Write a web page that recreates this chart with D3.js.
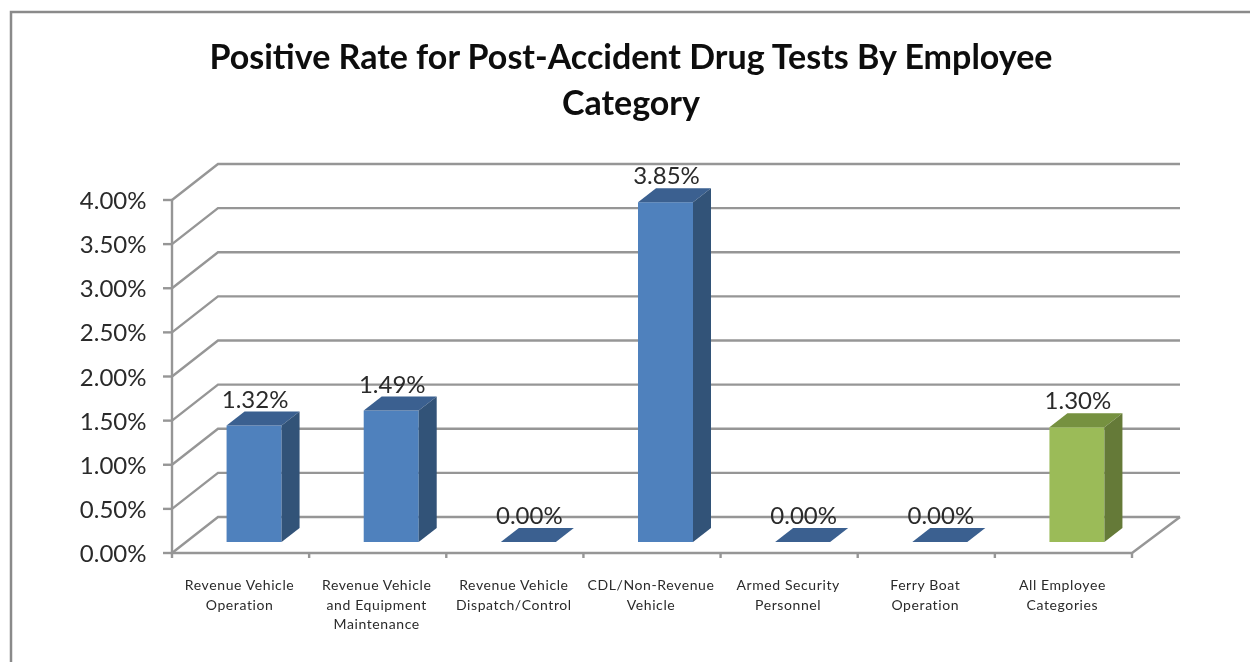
<!DOCTYPE html>
<html><head><meta charset="utf-8">
<script src="https://cdn.jsdelivr.net/npm/d3@7/dist/d3.min.js"></script>
<style>html,body{margin:0;padding:0;background:#fff;overflow:hidden}svg{display:block}</style>
</head><body>
<svg id="c" width="1250" height="662"></svg>
<script>
const categories = [
  ["Revenue Vehicle","Operation"],
  ["Revenue Vehicle","and Equipment","Maintenance"],
  ["Revenue Vehicle","Dispatch/Control"],
  ["CDL/Non-Revenue","Vehicle"],
  ["Armed Security","Personnel"],
  ["Ferry Boat","Operation"],
  ["All Employee","Categories"]
];
const values = [1.32, 1.49, 0, 3.85, 0, 0, 1.30];
const yTicks = [0, 0.5, 1, 1.5, 2, 2.5, 3, 3.5, 4];
const titleLines = ["Positive Rate for Post-Accident Drug Tests By Employee", "Category"];
const barFills = ["#4f81bd","#4f81bd","#4f81bd","#4f81bd","#4f81bd","#4f81bd","#9bbb59"];
const topFills = ["#3a6090","#3a6090","#3a6090","#3a6090","#3a6090","#3a6090","#76913f"];
const sideFills = ["#325278","#325278","#325278","#325278","#325278","#325278","#657a38"];

const svg = d3.select("#c");
const font = "Lato, sans-serif";
const grid = "#969696";
const X0 = 172, X1 = 1132, DX = 46, DY = -36;
const y = d3.scaleLinear().domain([0,4]).range([553,200]);
const x = d3.scaleBand().domain(d3.range(categories.length)).range([X0,X1]);
const barW = 55, bdx = 18, bdy = -14, offX = 14, offY = -11;

const f = svg.append("defs").append("filter").attr("id","soft")
  .attr("filterUnits","userSpaceOnUse")
  .attr("x",0).attr("y",0).attr("width",1250).attr("height",662);
f.append("feGaussianBlur").attr("stdDeviation",0.6);

const root = svg.append("g").attr("filter","url(#soft)");
// outer frame
root.append("path").attr("d","M11,670V12H1260").attr("fill","none").attr("stroke","#8a8a8a").attr("stroke-width",2.5);

const g = root.append("g");
// gridlines on side + back wall
g.selectAll("path.grid").data(yTicks).join("path").attr("class","grid")
  .attr("d",d=>`M${X0},${y(d)}L${X0+DX},${y(d)+DY}H${X1+48}`)
  .attr("fill","none").attr("stroke",grid).attr("stroke-width",2.4);
// axes and floor
g.append("path").attr("d",`M${X0},${y(4)}V${y(0)}H${X1}L${X1+DX+2},${y(0)+DY}`)
  .attr("fill","none").attr("stroke",grid).attr("stroke-width",2.4);
// ticks
g.selectAll("line.yt").data(yTicks).join("line").attr("class","yt")
  .attr("x1",X0-9).attr("x2",X0).attr("y1",d=>y(d)).attr("y2",d=>y(d))
  .attr("stroke",grid).attr("stroke-width",2.4);
g.selectAll("line.xt").data(d3.range(categories.length+1)).join("line").attr("class","xt")
  .attr("x1",d=>X0+d*x.step()).attr("x2",d=>X0+d*x.step()).attr("y1",y(0)).attr("y2",y(0)+5)
  .attr("stroke",grid).attr("stroke-width",2.4);
// y labels
g.selectAll("text.yl").data(yTicks).join("text").attr("class","yl")
  .attr("x",146.5).attr("y",d=>y(d)+9).attr("text-anchor","end")
  .attr("font-family",font).attr("font-size",24).attr("fill","#2a2a2a")
  .text(d=>d.toFixed(2)+"%");

// bars
const bars = g.selectAll("g.bar").data(values).join("g").attr("class","bar")
  .attr("transform",(d,i)=>`translate(${x(i)+(x.bandwidth()-barW)/2+offX-0.5},${y(0)+offY})`);
const h = d => y(0)-y(d);
bars.append("rect").attr("x",0).attr("y",d=>-h(d)).attr("width",barW).attr("height",d=>h(d))
  .attr("fill",(d,i)=>barFills[i]);
bars.append("path").attr("d",d=>`M0,${-h(d)}l${bdx},${bdy}h${barW}l${-bdx},${-bdy}z`)
  .attr("fill",(d,i)=>topFills[i]);
bars.append("path").attr("d",d=>`M${barW},0l${bdx},${bdy}v${-h(d)}l${-bdx},${-bdy}z`)
  .attr("fill",(d,i)=>sideFills[i]);
bars.append("text").attr("x",barW/2+1).attr("y",d=>-h(d)-18).attr("text-anchor","middle")
  .attr("font-family",font).attr("font-size",24).attr("fill","#2a2a2a")
  .text(d=>d.toFixed(2)+"%");

// category labels
categories.forEach((lines,i)=>{
  const t = g.append("text").attr("text-anchor","middle")
    .attr("font-family",font).attr("font-size",14).attr("letter-spacing",0.6).attr("fill","#2a2a2a");
  lines.forEach((l,j)=>t.append("tspan").attr("x",x(i)+x.bandwidth()/2-1).attr("y",590+j*19.5).text(l));
});
// title
const tt = root.append("text").attr("text-anchor","middle")
  .attr("font-family",font).attr("font-weight",700).attr("font-size",34).attr("fill","#0a0a0a");
titleLines.forEach((l,j)=>tt.append("tspan").attr("x",631).attr("y",69+j*46).text(l));
</script>
</body></html>
